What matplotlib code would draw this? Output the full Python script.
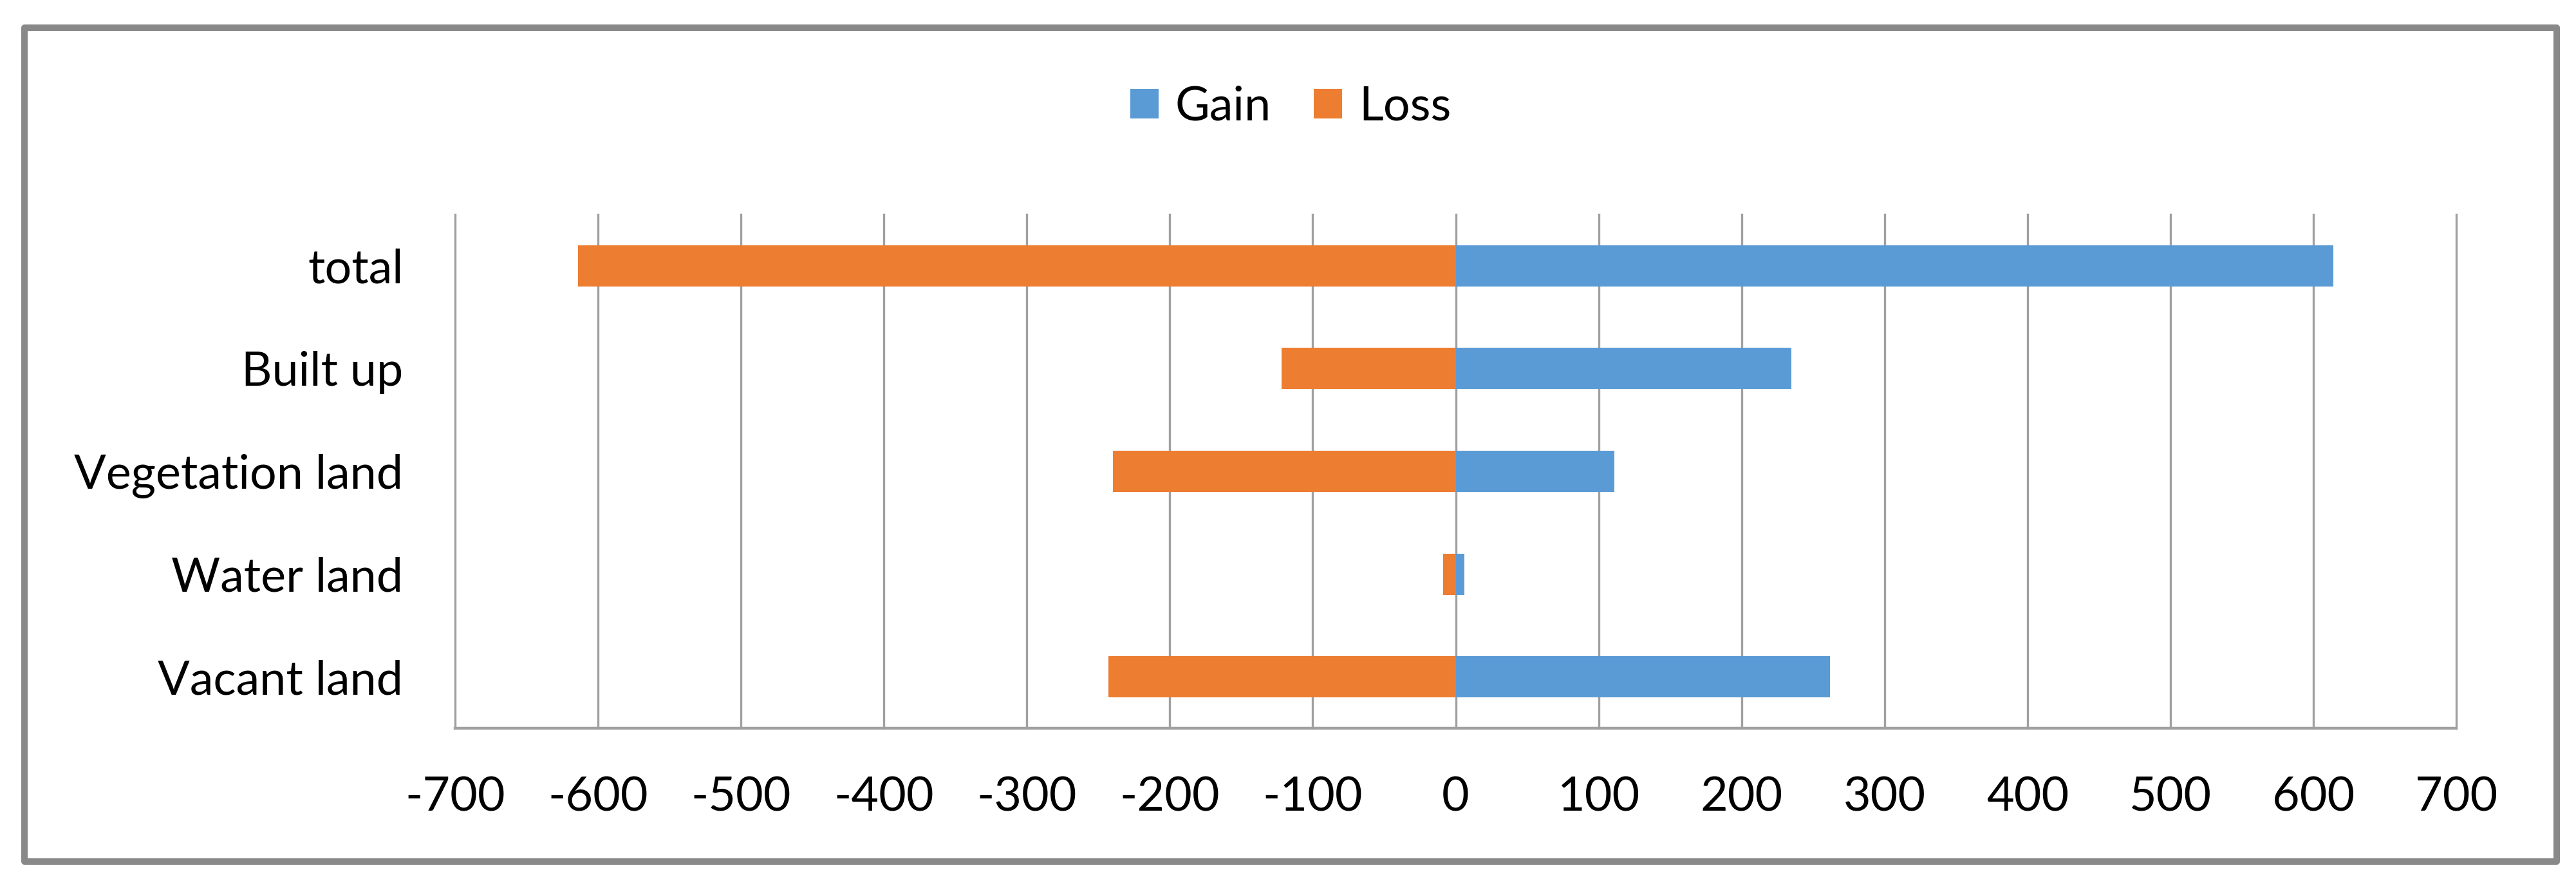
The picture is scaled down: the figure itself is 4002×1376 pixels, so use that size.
import matplotlib
matplotlib.use("Agg")
import matplotlib.pyplot as plt
from matplotlib.patches import Rectangle
import numpy as np

# Data (bottom to top, as Excel draws bar categories)
categories = ["Vacant land", "Water land", "Vegetation land", "Built up", "total"]
gain = [262, 6, 111, 235, 614]
loss = [-243, -9, -240, -122, -614]
xticks = list(range(-700, 701, 100))

plt.rcParams['font.family'] = ['Lato', 'DejaVu Sans']

fig = plt.figure(figsize=(20.01, 6.88), dpi=200)
ax = fig.add_axes([707/4002, 1 - 1131/1376, (3816-707)/4002, (1131-333)/1376])

y = np.arange(len(categories))
ax.barh(y, gain, height=0.4, color='#5B9BD5', label='Gain', zorder=3)
ax.barh(y, loss, height=0.4, color='#ED7D31', label='Loss', zorder=3)

ax.set_xlim(-700, 700)
ax.set_ylim(-0.5, len(categories) - 0.5)
ax.set_xticks(xticks)
ax.set_xticklabels([str(v) for v in xticks])
ax.set_yticks(y)
ax.set_yticklabels(categories)

ax.tick_params(axis='x', length=0, pad=27, labelsize=26.5, colors='black')
ax.tick_params(axis='y', length=0, pad=29, labelsize=26.5, colors='black')

ax.grid(axis='x', color='#a0a0a0', linewidth=1.2, zorder=0)
ax.grid(axis='y', visible=False)
ax.set_axisbelow(True)
for gl in ax.get_xgridlines():
    gl.set_clip_on(False)

for s in ['top', 'right', 'left']:
    ax.spines[s].set_visible(False)
ax.spines['bottom'].set_color('#a0a0a0')
ax.spines['bottom'].set_linewidth(1.6)
ax.spines['bottom'].set_zorder(4)

fig.legend(loc='center', bbox_to_anchor=(0.501, 0.879), ncol=2, frameon=False,
           fontsize=26.5, handlelength=0.6, handleheight=0.6, handletextpad=0.35,
           columnspacing=0.9)

# outer chart border
border = Rectangle((38/4002, 1 - 1338/1376), (3972-38)/4002, (1338-43)/1376,
                   transform=fig.transFigure, fill=False, edgecolor='#898989',
                   linewidth=3.6, joinstyle='round')
fig.patches.append(border)

fig.savefig('out.png', dpi=200, facecolor='white')
